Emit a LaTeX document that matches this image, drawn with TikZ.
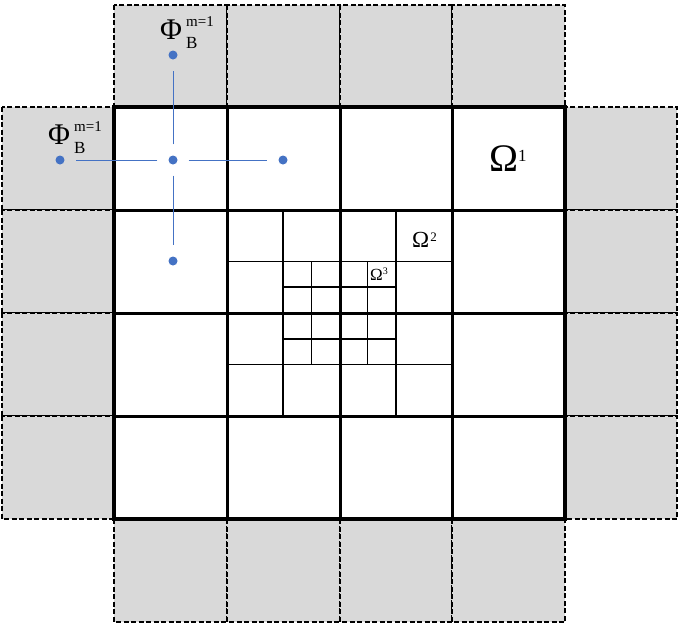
\documentclass[tikz,border=0pt]{standalone}
\usepackage{fontspec}
\setmainfont{Liberation Serif}
\definecolor{cellgray}{HTML}{D9D9D9}
\definecolor{dotblue}{HTML}{4472C4}
\newcommand{\philabel}{{\fontsize{30}{30}\selectfont Φ}\kern4pt\rlap{\raisebox{13pt}{\fontsize{15}{15}\selectfont m=1}}\raisebox{-9pt}{\fontsize{17}{17}\selectfont B}}
\begin{document}
\begin{tikzpicture}[x=1pt,y=-1pt,
  ghost/.style={fill=cellgray, draw=black, line width=1.7pt, dash pattern=on 5pt off 2.5pt},
  lvlone/.style={line width=3pt, line cap=rect},
  lvltwo/.style={line width=1.9pt},
  lvlthree/.style={line width=1.6pt},
  dot/.style={circle, fill=dotblue, inner sep=0pt, minimum size=9pt},
  link/.style={draw=dotblue, line width=0.9pt, shorten <=11pt, shorten >=11pt},
  lbl/.style={inner sep=0pt, anchor=base west}]
\useasboundingbox (0,0) rectangle (680,624);
% ghost cells
\foreach \a/\b in {114/227, 227/340, 340/452, 452/565} {
  \draw[ghost] (\a,5) rectangle (\b,107);
  \draw[ghost] (\a,519) rectangle (\b,622);
}
\foreach \a/\b in {107/210, 210/313, 313/416, 416/519} {
  \draw[ghost] (2,\a) rectangle (114,\b);
  \draw[ghost] (565,\a) rectangle (677,\b);
}
% main domain
\fill[white] (114,107) rectangle (565,519);
% level 3
\draw[lvlthree] (311.5,261.5) -- (311.5,364.5) (367.5,261.5) -- (367.5,364.5)
  (283.4,287.25) -- (395.6,287.25) (283.4,338.75) -- (395.6,338.75);
% level 2
\draw[lvltwo] (283.4,210) -- (283.4,416) (395.6,210) -- (395.6,416)
  (227,261.5) -- (452,261.5) (227,364.5) -- (452,364.5);
% level 1
\foreach \x in {227,340,452} \draw[lvlone] (\x,107) -- (\x,519);
\foreach \y in {210,313,416} \draw[lvlone] (114,\y) -- (565,\y);
\draw[lvlone, line width=3.2pt] (114,107) rectangle (565,519);
% stencil
\node[dot] (c) at (173,160) {};
\node[dot] (n) at (173,55) {};
\node[dot] (w) at (60,160) {};
\node[dot] (e) at (283,160) {};
\node[dot] (s) at (173,261) {};
\draw[link] (c) -- (n);
\draw[link] (c) -- (w);
\draw[link] (c) -- (e);
\draw[link] (c) -- (s);
% labels
\node[lbl] (phiA) at (160,39) {\philabel};
\node[lbl] (phiB) at (48,144) {\philabel};
\node[lbl] (omA) at (489,171) {\fontsize{39}{39}\selectfont Ω\raisebox{10pt}{\fontsize{17}{17}\selectfont 1}};
\node[lbl] (omB) at (412,247) {\fontsize{23}{23}\selectfont Ω\kern1pt\raisebox{6pt}{\fontsize{13}{13}\selectfont 2}};
\node[lbl] (omC) at (370,280.5) {\fontsize{17}{17}\selectfont Ω\raisebox{6pt}{\fontsize{10}{10}\selectfont 3}};
\end{tikzpicture}
\end{document}
